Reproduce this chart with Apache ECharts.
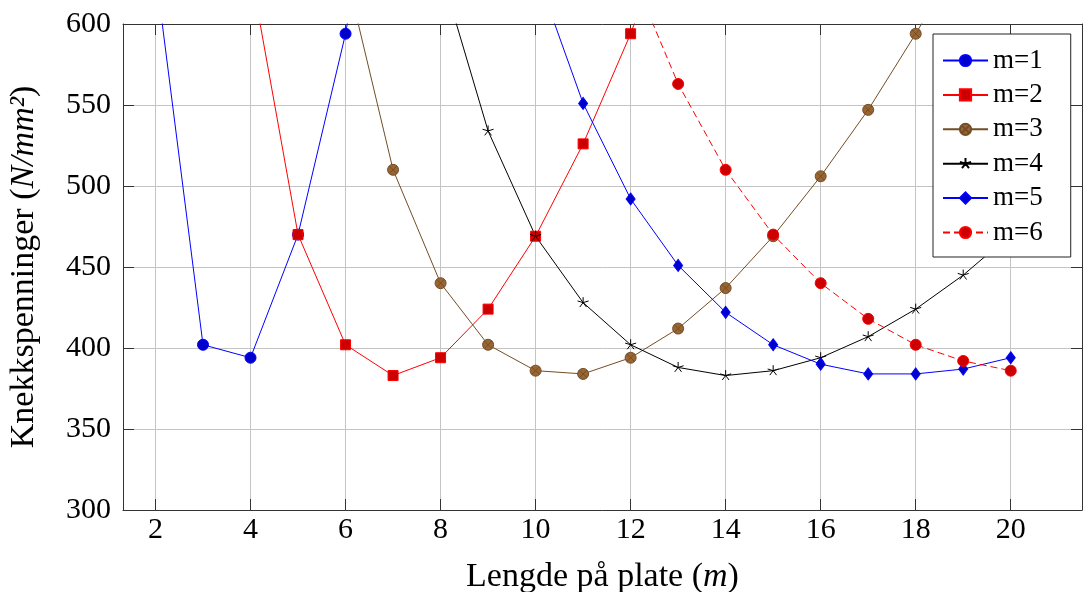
<!DOCTYPE html>
<html>
<head>
<meta charset="utf-8">
<script src="https://cdn.jsdelivr.net/npm/echarts@6/dist/echarts.min.js"></script>
<style>html,body{margin:0;padding:0;background:#fff}#c{width:1083px;height:592px}</style>
</head>
<body>
<div id="c"></div>
<script>
// ---- data ----
const xTicks = [2, 4, 6, 8, 10, 12, 14, 16, 18, 20];
const m1x = [2, 3, 4, 5, 6, 7];
const m1y = [633, 402, 394, 470, 594, 764];
const m2x = [4, 5, 6, 7, 8, 9, 10, 11, 12, 13];
const m2y = [633, 470, 402, 383, 394, 424, 469, 526, 594, 674];
const m3x = [6, 7, 8, 9, 10, 11, 12, 13, 14, 15, 16, 17, 18, 19];
const m3y = [633, 510, 440, 402, 386, 384, 394, 412, 437, 469, 506, 547, 594, 643];
const m4x = [8, 9, 10, 11, 12, 13, 14, 15, 16, 17, 18, 19, 20];
const m4y = [633, 534, 469, 428, 402, 388, 383, 386, 394, 407, 424, 445, 470];
const m5x = [10, 11, 12, 13, 14, 15, 16, 17, 18, 19, 20];
const m5y = [633, 551, 492, 451, 422, 402, 390, 384, 384, 387, 394];
const m6x = [12, 13, 14, 15, 16, 17, 18, 19, 20];
const m6y = [633, 563, 510, 470, 440, 418, 402, 392, 386];
const seriesNames = ['m=1', 'm=2', 'm=3', 'm=4', 'm=5', 'm=6'];

const pair = (xs, ys) => xs.map((x, i) => [x, ys[i]]);
const FONT = 'Liberation Serif';
const AX = '#333';
const GRID = '#c4c4c4';
const XMIN = 1.316, XMAX = 21.5;

const otimes = 'path://M0,-10A10,10,0,1,1,0,10A10,10,0,1,1,0,-10ZM-7.07,-7.07L7.07,7.07M-7.07,7.07L7.07,-7.07';
const star = 'path://M0,0L0,-10M0,0L9.51,-3.09M0,0L5.88,8.09M0,0L-5.88,8.09M0,0L-9.51,-3.09M0,10L0,10';

function ser(name, data, opt) {
  return Object.assign({
    name: name, type: 'line', data: data, xAxisIndex: 0, yAxisIndex: 0,
    showAllSymbol: true, animation: false, clip: true
  }, opt);
}

const series = [
  ser(seriesNames[0], pair(m1x, m1y), {
    symbol: 'circle', symbolSize: 11,
    lineStyle: { color: '#0000ff', width: 1 },
    itemStyle: { color: '#0000cc', borderColor: '#0000ff', borderWidth: 1 }
  }),
  ser(seriesNames[1], pair(m2x, m2y), {
    symbol: 'rect', symbolSize: 10,
    lineStyle: { color: '#ff0000', width: 1 },
    itemStyle: { color: '#cc0000', borderColor: '#ff0000', borderWidth: 1 }
  }),
  ser(seriesNames[2], pair(m3x, m3y), {
    symbol: otimes, symbolSize: 11,
    lineStyle: { color: '#734d26', width: 1 },
    itemStyle: { color: '#996633', borderColor: '#734d26', borderWidth: 1 }
  }),
  ser(seriesNames[3], pair(m4x, m4y), {
    symbol: star, symbolSize: 11,
    lineStyle: { color: '#000000', width: 1 },
    itemStyle: { color: 'rgba(0,0,0,0)', borderColor: '#000000', borderWidth: 1 }
  }),
  ser(seriesNames[4], pair(m5x, m5y), {
    symbol: 'diamond', symbolSize: [9, 12],
    lineStyle: { color: '#0000ff', width: 1 },
    itemStyle: { color: '#0000cc', borderColor: '#0000ff', borderWidth: 1 }
  }),
  ser(seriesNames[5], pair(m6x, m6y), {
    symbol: 'circle', symbolSize: 11,
    lineStyle: { color: '#ff0000', width: 1, type: [7, 4] },
    itemStyle: { color: '#cc0000', borderColor: '#ff0000', borderWidth: 1 }
  })
];

const chart = echarts.init(document.getElementById('c'), null, { renderer: 'canvas' });
chart.setOption({
  animation: false,
  backgroundColor: '#fff',
  grid: { left: 123, right: 1, top: 24, bottom: 82, containLabel: false, outerBoundsMode: 'none' },
  legend: {
    orient: 'vertical', left: 933, top: 34,
    data: seriesNames,
    itemWidth: 45, itemHeight: 14, itemGap: 7.4,
    padding: [13, 28, 11, 9],
    borderColor: '#222', borderWidth: 1, backgroundColor: '#fff',
    textStyle: { fontFamily: FONT, fontSize: 27, color: '#000', lineHeight: 25 }
  },
  xAxis: [{
    type: 'value', min: XMIN, max: XMAX, position: 'bottom',
    axisLine: { show: true, onZero: false, lineStyle: { color: AX, width: 1 } },
    axisTick: { show: true, inside: true, length: 11, customValues: xTicks, lineStyle: { color: AX, width: 1 } },
    axisLabel: { customValues: xTicks, margin: 5, fontFamily: FONT, fontSize: 30, color: '#000' },
    splitLine: { show: true, lineStyle: { color: GRID, width: 1 } },
    name: '{a|Lengde på plate (}{i|m}{a|)}',
    nameLocation: 'middle', nameGap: 50,
    nameTextStyle: { rich: {
      a: { fontFamily: FONT, fontSize: 34, color: '#000' },
      i: { fontFamily: FONT, fontSize: 34, fontStyle: 'italic', color: '#000' }
    } }
  }, {
    type: 'value', min: XMIN, max: XMAX, position: 'top',
    axisLine: { show: true, onZero: false, lineStyle: { color: AX, width: 1 } },
    axisTick: { show: true, inside: true, length: 11, customValues: xTicks, lineStyle: { color: AX, width: 1 } },
    axisLabel: { show: false, customValues: xTicks },
    splitLine: { show: false }
  }],
  yAxis: [{
    type: 'value', min: 300, max: 600, interval: 50, position: 'left',
    axisLine: { show: true, onZero: false, lineStyle: { color: AX, width: 1 } },
    axisTick: { show: true, inside: true, length: 11, lineStyle: { color: AX, width: 1 } },
    axisLabel: { margin: 12, fontFamily: FONT, fontSize: 30, color: '#000' },
    splitLine: { show: true, lineStyle: { color: GRID, width: 1 } },
    name: '{a|Knekkspenninger (}{i|N/mm²}{a|)}',
    nameLocation: 'middle', nameGap: 82, nameRotate: 90,
    nameTextStyle: { rich: {
      a: { fontFamily: FONT, fontSize: 34, color: '#000' },
      i: { fontFamily: FONT, fontSize: 34, fontStyle: 'italic', color: '#000' }
    } }
  }, {
    type: 'value', min: 300, max: 600, interval: 50, position: 'right',
    axisLine: { show: true, onZero: false, lineStyle: { color: AX, width: 1 } },
    axisTick: { show: true, inside: true, length: 11, lineStyle: { color: AX, width: 1 } },
    axisLabel: { show: false },
    splitLine: { show: false }
  }],
  series: series
});
</script>
</body>
</html>
